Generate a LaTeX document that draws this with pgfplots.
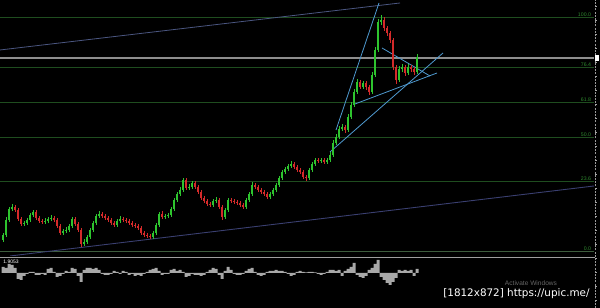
\documentclass[border=0pt]{standalone}
\usepackage{pgfplots}
\pgfplotsset{compat=1.18}
\usepackage{pgfplotstable}
\usepackage{fontspec}
\setmainfont{Liberation Sans}
\newfontfamily\wmfont{DejaVu Sans}
\definecolor{cgreen}{HTML}{2EC42E}
\definecolor{cred}{HTML}{D42A2A}
\definecolor{fibgreen}{HTML}{1F4D1F}
\definecolor{fiblabel}{HTML}{2F8A2F}
\definecolor{trendA}{HTML}{4A5680}
\definecolor{trendB}{HTML}{3A3F70}
\definecolor{trendC}{HTML}{4F9AD0}
\definecolor{histgray}{HTML}{A8A8A8}
\definecolor{pricegray}{HTML}{8E8E8E}

% green (bullish) candles: x, body low (open), body high (close), low, high
\pgfplotstableread{
x bl bh l h
3 20 25 18 27
6 25 40 23 43
9 40 51 38 53
12 51 53 49 56
24 36 37 34 39
27 37 40 35 42
30 40 45 38 47
33 45 48 43 50
45 38 39 36 42
48 39 41 37 43
51 41 42 39 45
63 27 29 25 31
66 29 30 27 33
69 30 34 28 36
72 34 41 32 43
84 16 18 14 21
87 18 23 16 25
90 23 30 21 32
93 30 37 28 39
96 37 44 35 46
99 44 46 42 49
117 35 39 33 41
120 39 41 37 44
153 23 27 21 29
156 27 35 25 37
159 35 46 33 48
165 43 44 41 46
168 44 45 42 47
171 45 51 43 53
174 51 60 49 62
177 60 66 58 68
180 66 70 64 73
183 70 80 68 82
189 72 73 70 76
192 73 77 71 79
213 55 59 53 61
216 59 60 57 63
225 43 50 41 52
228 50 60 48 62
246 53 60 51 62
249 60 66 58 68
252 66 75 64 78
270 63 66 61 68
273 66 70 64 72
276 70 75 68 77
279 75 82 73 84
282 82 88 80 90
285 88 91 86 93
288 91 94 89 96
291 94 96 92 99
309 82 90 80 92
312 90 96 88 98
315 96 100 94 102
321 99 100 97 102
327 98 100 96 102
330 100 105 98 108
333 105 117 103 120
336 117 123 115 126
339 123 131 121 134
342 131 133 129 136
348 130 143 128 146
351 143 155 141 158
354 155 168 153 171
357 168 178 166 181
363 173 177 171 179
372 168 185 166 188
375 185 210 183 213
378 210 238 208 241
381 238 240 235 245
399 180 191 178 194
402 191 193 188 196
408 187 193 185 196
417 188 203 186 206
}\greencandles

% red (bearish) candles: x, body low (close), body high (open), low, high
\pgfplotstableread{
x bl bh l h
15 50 53 48 55
18 41 50 39 52
21 36 41 34 43
36 42 48 40 50
39 39 42 37 44
42 38 39 36 41
54 40 42 38 44
57 34 40 32 42
60 27 34 25 36
75 36 41 34 43
78 30 36 28 38
81 16 30 13 32
102 44 46 42 48
105 42 44 40 46
108 40 42 38 44
111 37 40 35 42
114 35 37 33 39
123 40 41 38 43
126 39 40 37 42
129 37 39 35 41
132 35 37 33 39
135 34 35 32 37
138 32 34 30 36
141 27 32 25 34
144 25 27 23 29
147 24 25 22 27
150 23 24 21 26
162 43 46 41 49
186 72 80 70 82
195 73 77 71 79
198 68 73 66 75
201 62 68 60 70
204 59 62 57 64
207 56 59 54 61
210 55 56 53 58
219 53 60 51 62
222 43 53 40 55
231 59 60 57 62
234 58 59 56 61
237 57 58 55 60
240 55 57 53 59
243 53 55 51 57
255 73 75 71 77
258 70 73 68 75
261 68 70 66 72
264 66 68 64 70
267 63 66 61 68
294 93 96 91 98
297 90 93 88 95
300 88 90 86 92
303 83 88 81 90
306 82 83 79 85
318 99 100 97 102
324 98 100 96 102
345 130 133 127 135
360 173 178 171 180
366 173 177 170 179
369 168 173 165 175
384 232 240 229 243
387 227 232 224 234
390 220 227 217 229
393 193 220 190 222
396 180 193 176 195
405 187 193 184 195
411 191 193 188 195
414 188 191 185 193
}\redcandles

% oscillator histogram
\pgfplotstableread{
x v
3 6
6 5
9 9
12 8
15 5
18 -6
21 -7
24 -3
27 -1
30 1
33 1
36 -2
39 -2
42 -1
45 -2
48 4
51 5
54 1
57 -4
60 -3
63 -1
66 2
69 1
72 5
75 4
78 -3
81 -9
84 3
87 5
90 5
93 4
96 5
99 3
102 -1
105 -2
108 -2
111 -1
114 2
117 1
120 -1
123 2
126 1
129 -2
132 -1
135 -3
138 -2
141 -3
144 -1
147 1
150 3
153 4
156 5
159 2
162 -2
165 -1
168 -1
171 3
174 4
177 2
180 3
183 1
186 -4
189 -3
192 -1
195 -2
198 -2
201 -3
204 -2
207 1
210 3
213 5
216 4
219 -2
222 -6
225 2
228 6
231 3
234 -1
237 -2
240 -2
243 -1
246 2
249 4
252 5
255 1
258 -2
261 -3
264 -2
267 1
270 2
273 2
276 3
279 2
282 2
285 1
288 -1
291 -3
294 -2
297 1
300 2
303 1
306 0.5
309 1
312 1
315 0.5
318 -1
321 -2
324 -1
327 1
330 3
333 3
336 2
339 3
342 -3
345 2
348 4
351 6
354 10
357 -2
360 -4
363 -5
366 -3
369 3
372 5
375 9
378 13
381 -4
384 -7
387 -10
390 -12
393 -9
396 -5
399 3
402 2
405 3
408 2
411 3
414 -3
417 4
}\histo

\pgfplotsset{
  wick/.style={draw=none, mark=none, forget plot,
    error bars/.cd, y dir=plus, y explicit, error mark=none,
    error bar style={draw=#1, line width=0.35pt}},
  body/.style={draw=none, mark=none, forget plot,
    error bars/.cd, y dir=plus, y explicit, error mark=none,
    error bar style={draw=#1, line width=0.8pt}},
}

\begin{document}
\begin{tikzpicture}
\fill[black] (0,0) rectangle (300pt,154pt);

\begin{axis}[at={(0pt,154pt)}, anchor=north west, scale only axis,
  width=297pt, height=128pt, xmin=0, xmax=594, ymin=4, ymax=260,
  hide axis, clip=true]
% Fibonacci levels
\addplot[fibgreen, line width=0.5pt] coordinates {(0,242) (594,242)};
\addplot[fibgreen, line width=0.5pt] coordinates {(0,192) (594,192)};
\addplot[fibgreen, line width=0.5pt] coordinates {(0,157) (594,157)};
\addplot[fibgreen, line width=0.5pt] coordinates {(0,122) (594,122)};
\addplot[fibgreen, line width=0.5pt] coordinates {(0,78) (594,78)};
\addplot[fibgreen!70!gray, line width=0.5pt] coordinates {(0,8) (594,8)};
% current price line
\addplot[pricegray, line width=0.55pt] coordinates {(0,202) (594,202)};
% trend lines
\addplot[trendA, line width=0.4pt] coordinates {(0,210) (400,257)};
\addplot[trendB, line width=0.45pt] coordinates {(10,4) (594,74)};
\addplot[trendC, line width=0.4pt] coordinates {(336,130) (379,257)};
\addplot[trendC, line width=0.4pt] coordinates {(330,108) (443,207)};
\addplot[trendC, line width=0.4pt] coordinates {(382,212) (430,184)};
\addplot[trendC, line width=0.4pt] coordinates {(355,156) (437,187)};
% candle wicks
\addplot[wick=cgreen] table[x=x, y=l, y error expr=\thisrow{h}-\thisrow{l}] {\greencandles};
\addplot[wick=cred] table[x=x, y=l, y error expr=\thisrow{h}-\thisrow{l}] {\redcandles};
% candle bodies
\addplot[body=cgreen] table[x=x, y=bl, y error expr=\thisrow{bh}-\thisrow{bl}] {\greencandles};
\addplot[body=cred] table[x=x, y=bl, y error expr=\thisrow{bh}-\thisrow{bl}] {\redcandles};
% level labels
\begin{scope}[every node/.style={anchor=south east, inner sep=0.3pt, text=fiblabel, font=\fontsize{2.6}{3}\selectfont}]
\node at (axis cs:592,242) {100.0};
\node at (axis cs:592,192) {76.4};
\node at (axis cs:592,157) {61.8};
\node at (axis cs:592,122) {50.0};
\node at (axis cs:592,78) {23.6};
\node at (axis cs:592,8) {0.0};
\end{scope}
\end{axis}

\begin{axis}[at={(0pt,0pt)}, anchor=south west, scale only axis,
  width=297pt, height=24.5pt, xmin=0, xmax=594, ymin=-35, ymax=14,
  hide axis, clip=true]
\addplot[ybar, bar width=1.5pt, bar shift=0pt, fill=histgray, draw=none]
  table[x=x, y=v] {\histo};
\end{axis}

% panel separator and price scale
\draw[gray!75, line width=0.6pt] (0,25.25pt) -- (297.5pt,25.25pt);
\draw[gray!80, line width=0.4pt, dash pattern=on 1pt off 0.6pt] (297.5pt,0) -- (297.5pt,154pt);
\foreach \yy in {4,11,...,154} \draw[gray!70, line width=0.3pt] (297.5pt,\yy pt) -- (298.6pt,\yy pt);
\fill[white] (297.6pt,123.3pt) rectangle (299.6pt,126.7pt);
\node[anchor=west, text=white, font=\fontsize{2.5}{3}\selectfont, inner sep=0] at (1.5pt,23pt) {1.9053};

% watermarks
\node[text=black!60!white, font=\fontsize{3.3}{4}\selectfont, inner sep=0] at (265.5pt,12.5pt) {Activate Windows};
\node[text=white, font=\wmfont\fontsize{5.2}{6}\selectfont, inner sep=0] at (258.25pt,7pt) {[1812x872] https://upic.me/};

\pgfresetboundingbox
\useasboundingbox (0,0) rectangle (300pt,154pt);
\end{tikzpicture}
\end{document}
